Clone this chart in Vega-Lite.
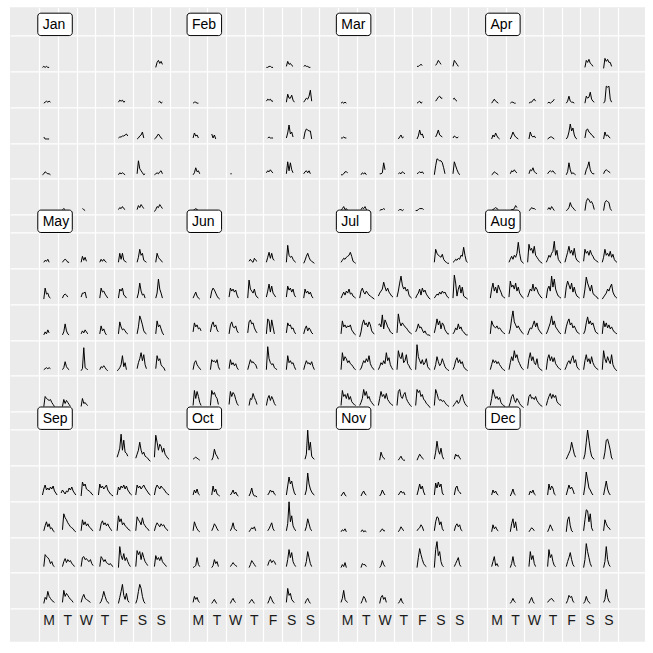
{
"$schema": "https://vega.github.io/schema/vega-lite/v6.json",
"width": 635, "height": 634.4,
"autosize": {"type": "none"},
"padding": {"left": 10, "top": 7.3, "right": 8, "bottom": 11.3},
"background": "white",
"config": {"view": {"fill": "#EBEBEB", "stroke": null}},
"datasets": {
"months": [{"m":1,"label":"Jan"},{"m":2,"label":"Feb"},{"m":3,"label":"Mar"},{"m":4,"label":"Apr"},{"m":5,"label":"May"},{"m":6,"label":"Jun"},{"m":7,"label":"Jul"},{"m":8,"label":"Aug"},{"m":9,"label":"Sep"},{"m":10,"label":"Oct"},{"m":11,"label":"Nov"},{"m":12,"label":"Dec"}],
"days": [
{"m":1,"w":1,"d":1,"s":0,"v":[1,2,1,2,1,1]},
{"m":1,"w":1,"d":7,"s":1,"v":[1,6,8,5,7,4]},
{"m":1,"w":2,"d":1,"s":1,"v":[1,2,3,2,3,2]},
{"m":1,"w":2,"d":5,"s":1,"v":[2,4,3,4,2,3]},
{"m":1,"w":2,"d":7,"s":3,"v":[2,3,1,2]},
{"m":1,"w":3,"d":1,"s":1,"v":[3,1,1,1,1]},
{"m":1,"w":3,"d":5,"s":1,"v":[2,3,3,4,4,5,6,4]},
{"m":1,"w":3,"d":6,"s":1,"v":[1,2,4,5,8,2]},
{"m":1,"w":3,"d":7,"s":0,"v":[1,2,4,6,4,2,1]},
{"m":1,"w":4,"d":1,"s":0,"v":[1,2,4,3,2,2,1]},
{"m":1,"w":4,"d":5,"s":1,"v":[1,3,2,3,2,1]},
{"m":1,"w":4,"d":6,"s":1,"v":[2,15,7,5,3,1,2]},
{"m":1,"w":4,"d":7,"s":0,"v":[1,2,3,2,4,5,2]},
{"m":1,"w":5,"d":2,"s":1,"v":[2,3,2]},
{"m":1,"w":5,"d":3,"s":2,"v":[3,2,1]},
{"m":1,"w":5,"d":5,"s":1,"v":[2,4,3,5,3,2]},
{"m":1,"w":5,"d":6,"s":1,"v":[2,6,4,7,5,3]},
{"m":1,"w":5,"d":7,"s":0,"v":[0,2,5,4,7,5,3]},
{"m":2,"w":1,"d":5,"s":0,"v":[1,1,2,2,1,1]},
{"m":2,"w":1,"d":6,"s":1,"v":[2,7,4,5,3,2]},
{"m":2,"w":1,"d":7,"s":0,"v":[2,3,2,2,1,1]},
{"m":2,"w":2,"d":1,"s":1,"v":[1,2,2,1,1]},
{"m":2,"w":2,"d":5,"s":0,"v":[3,5,4,5,3,3]},
{"m":2,"w":2,"d":6,"s":1,"v":[2,10,6,6,9,4,2]},
{"m":2,"w":2,"d":7,"s":0,"v":[2,4,6,5,8,14,3]},
{"m":2,"w":3,"d":1,"s":1,"v":[2,7,4,5,2]},
{"m":2,"w":3,"d":2,"s":1,"v":[6,2,5,1]},
{"m":2,"w":3,"d":5,"s":1,"v":[2,3,2,2,2]},
{"m":2,"w":3,"d":6,"s":1,"v":[2,7,15,6,8,3]},
{"m":2,"w":3,"d":7,"s":0,"v":[1,8,11,10,9,9,1]},
{"m":2,"w":4,"d":1,"s":1,"v":[1,3,8,4,5,2]},
{"m":2,"w":4,"d":3,"s":1,"v":[2,2]},
{"m":2,"w":4,"d":5,"s":0,"v":[3,5,4,6,4,3]},
{"m":2,"w":4,"d":6,"s":1,"v":[2,14,5,13,6,3]},
{"m":2,"w":4,"d":7,"s":0,"v":[2,4,5,3,5,2]},
{"m":2,"w":5,"d":1,"s":1,"v":[1,2,3,2,1]},
{"m":3,"w":1,"d":5,"s":1,"v":[2,2,3,4,3]},
{"m":3,"w":1,"d":6,"s":1,"v":[3,5,8,6,4]},
{"m":3,"w":1,"d":7,"s":0,"v":[2,8,6,4,2]},
{"m":3,"w":2,"d":1,"s":0,"v":[1,2,1,2,1]},
{"m":3,"w":2,"d":5,"s":1,"v":[1,2,3,1,2]},
{"m":3,"w":2,"d":6,"s":1,"v":[3,5,7,8,6,6]},
{"m":3,"w":2,"d":7,"s":0,"v":[5,6,4,3]},
{"m":3,"w":3,"d":1,"s":0,"v":[2,2,3,2,2]},
{"m":3,"w":3,"d":4,"s":1,"v":[1,3,5,2,3]},
{"m":3,"w":3,"d":5,"s":1,"v":[1,4,10,5,6,2]},
{"m":3,"w":3,"d":6,"s":1,"v":[3,6,10,5,4,3]},
{"m":3,"w":3,"d":7,"s":0,"v":[2,4,3,2,3]},
{"m":3,"w":4,"d":1,"s":0,"v":[1,1,2,4,4,3]},
{"m":3,"w":4,"d":2,"s":1,"v":[1,3,2,3,1]},
{"m":3,"w":4,"d":3,"s":1,"v":[2,2,3,13,6]},
{"m":3,"w":4,"d":4,"s":1,"v":[2,3,2,4,3,2]},
{"m":3,"w":4,"d":5,"s":1,"v":[2,3,4,3,4,2]},
{"m":3,"w":4,"d":6,"s":0,"v":[1,10,17,16,15,15,13,8,2]},
{"m":3,"w":4,"d":7,"s":0,"v":[2,14,10,6,3,1]},
{"m":3,"w":5,"d":1,"s":0,"v":[1,3,5,2,3,1]},
{"m":3,"w":5,"d":2,"s":1,"v":[2,4,3,5,2,1]},
{"m":3,"w":5,"d":3,"s":1,"v":[1,2,2,3,2]},
{"m":3,"w":5,"d":4,"s":1,"v":[1,2,2,1,2]},
{"m":3,"w":5,"d":5,"s":0,"v":[1,1,2,3,3,3,2]},
{"m":4,"w":1,"d":6,"s":1,"v":[1,8,6,9,5,4,2]},
{"m":4,"w":1,"d":7,"s":1,"v":[0,10,7,9,6,6,2]},
{"m":4,"w":2,"d":1,"s":1,"v":[1,3,5,3,2,1]},
{"m":4,"w":2,"d":2,"s":1,"v":[1,2,2,1,1]},
{"m":4,"w":2,"d":3,"s":1,"v":[1,2,2,4,5,3]},
{"m":4,"w":2,"d":4,"s":1,"v":[1,2,1,2,3,5]},
{"m":4,"w":2,"d":5,"s":1,"v":[1,3,8,3,2,2,1]},
{"m":4,"w":2,"d":6,"s":1,"v":[1,8,6,7,12,5,3,2]},
{"m":4,"w":2,"d":7,"s":1,"v":[1,3,18,17,18,5,2]},
{"m":4,"w":3,"d":1,"s":1,"v":[1,5,3,7,4,2,1]},
{"m":4,"w":3,"d":2,"s":1,"v":[1,4,8,5,3,2,1]},
{"m":4,"w":3,"d":3,"s":1,"v":[1,8,4,3,4,2]},
{"m":4,"w":3,"d":4,"s":1,"v":[1,2,3,3,2,1]},
{"m":4,"w":3,"d":5,"s":1,"v":[1,3,8,16,9,12,5,2,1]},
{"m":4,"w":3,"d":6,"s":1,"v":[2,10,11,8,7,5,4,2]},
{"m":4,"w":3,"d":7,"s":1,"v":[1,8,4,5,3,2]},
{"m":4,"w":4,"d":1,"s":1,"v":[1,2,4,3,2,1]},
{"m":4,"w":4,"d":2,"s":1,"v":[2,5,4,6,4,3]},
{"m":4,"w":4,"d":3,"s":1,"v":[2,6,5,8,4,3,2]},
{"m":4,"w":4,"d":4,"s":1,"v":[2,4,5,4,5,3,2]},
{"m":4,"w":4,"d":5,"s":1,"v":[1,4,13,6,2,3,2,1]},
{"m":4,"w":4,"d":6,"s":1,"v":[1,6,9,14,6,3,2,2]},
{"m":4,"w":4,"d":7,"s":1,"v":[2,5,6,5,4,3]},
{"m":4,"w":5,"d":1,"s":1,"v":[1,2,3,4,3,2]},
{"m":4,"w":5,"d":2,"s":1,"v":[1,2,2,3,6,4]},
{"m":4,"w":5,"d":3,"s":1,"v":[1,2,4,3,3,2]},
{"m":4,"w":5,"d":4,"s":1,"v":[2,4,2,5,3,1]},
{"m":4,"w":5,"d":5,"s":1,"v":[1,2,4,9,5,4,2,1]},
{"m":4,"w":5,"d":6,"s":1,"v":[1,10,13,12,9,10,7,2]},
{"m":4,"w":5,"d":7,"s":1,"v":[1,9,11,10,9,3,1]},
{"m":5,"w":1,"d":1,"s":1,"v":[3,5,4,6,3]},
{"m":5,"w":1,"d":2,"s":1,"v":[3,5,6,5,3,3]},
{"m":5,"w":1,"d":3,"s":1,"v":[3,9,5,8,4]},
{"m":5,"w":1,"d":4,"s":1,"v":[3,6,4,6,4,3]},
{"m":5,"w":1,"d":5,"s":1,"v":[3,12,6,12,5,4,3]},
{"m":5,"w":1,"d":6,"s":1,"v":[3,8,16,10,12,5,4,3]},
{"m":5,"w":1,"d":7,"s":1,"v":[3,12,8,6,5,3]},
{"m":5,"w":2,"d":1,"s":1,"v":[2,13,7,8,4,3]},
{"m":5,"w":2,"d":2,"s":1,"v":[3,6,7,6,4]},
{"m":5,"w":2,"d":3,"s":1,"v":[4,8,8,9,3]},
{"m":5,"w":2,"d":4,"s":1,"v":[3,13,9,10,7,5,3]},
{"m":5,"w":2,"d":5,"s":1,"v":[3,12,10,13,6,5,3]},
{"m":5,"w":2,"d":6,"s":1,"v":[3,8,18,10,6,7,3]},
{"m":5,"w":2,"d":7,"s":1,"v":[3,8,22,12,8,3]},
{"m":5,"w":3,"d":1,"s":1,"v":[2,5,3,7,4]},
{"m":5,"w":3,"d":2,"s":1,"v":[2,5,13,6,3,2]},
{"m":5,"w":3,"d":3,"s":1,"v":[3,6,4,7,5,3]},
{"m":5,"w":3,"d":4,"s":1,"v":[3,11,6,8,4,2]},
{"m":5,"w":3,"d":5,"s":1,"v":[3,15,10,7,8,6,4,3]},
{"m":5,"w":3,"d":6,"s":1,"v":[3,10,21,17,12,6,4,3]},
{"m":5,"w":3,"d":7,"s":1,"v":[3,16,10,12,8,4,2]},
{"m":5,"w":4,"d":1,"s":1,"v":[3,4,5,4,5,4]},
{"m":5,"w":4,"d":2,"s":1,"v":[3,5,11,6,4,3]},
{"m":5,"w":4,"d":3,"s":1,"v":[2,4,25,5,4,3]},
{"m":5,"w":4,"d":4,"s":1,"v":[3,6,5,7,5,3,2]},
{"m":5,"w":4,"d":5,"s":0,"v":[2,3,5,8,17,6,10,3]},
{"m":5,"w":4,"d":6,"s":1,"v":[4,10,14,20,12,18,8,4]},
{"m":5,"w":4,"d":7,"s":1,"v":[4,17,12,14,8,6,5,2]},
{"m":5,"w":5,"d":1,"s":1,"v":[2,12,10,9,8,9,6,4,2]},
{"m":5,"w":5,"d":2,"s":1,"v":[2,9,5,8,6,4,2]},
{"m":5,"w":5,"d":3,"s":1,"v":[2,10,5,6,4,3]},
{"m":6,"w":1,"d":4,"s":1,"v":[4,6,4,3,7,5,4]},
{"m":6,"w":1,"d":5,"s":0,"v":[3,8,13,7,12,6,5]},
{"m":6,"w":1,"d":6,"s":1,"v":[3,20,10,8,9,6,4,3]},
{"m":6,"w":1,"d":7,"s":0,"v":[2,5,9,12,8,5,4,3,2]},
{"m":6,"w":2,"d":1,"s":1,"v":[3,6,9,5,3,2]},
{"m":6,"w":2,"d":2,"s":0,"v":[3,10,13,11,8,5,3,2]},
{"m":6,"w":2,"d":3,"s":0,"v":[4,13,10,12,9,11,6,3]},
{"m":6,"w":2,"d":4,"s":0,"v":[3,21,12,10,8,12,6,4,3]},
{"m":6,"w":2,"d":5,"s":0,"v":[4,10,17,9,15,8,6,4]},
{"m":6,"w":2,"d":6,"s":1,"v":[4,15,11,13,9,12,6,4]},
{"m":6,"w":2,"d":7,"s":0,"v":[3,12,8,10,7,9,5,3]},
{"m":6,"w":3,"d":1,"s":1,"v":[5,14,10,12,8,9,6]},
{"m":6,"w":3,"d":2,"s":0,"v":[5,12,15,10,12,7,5]},
{"m":6,"w":3,"d":3,"s":0,"v":[3,12,15,10,9,11,6,4]},
{"m":6,"w":3,"d":4,"s":0,"v":[4,15,17,13,14,9,6,4]},
{"m":6,"w":3,"d":5,"s":0,"v":[3,18,16,5,17,10,3]},
{"m":6,"w":3,"d":6,"s":1,"v":[4,14,11,12,8,9,5,3]},
{"m":6,"w":3,"d":7,"s":0,"v":[3,8,11,6,9,7,4,3]},
{"m":6,"w":4,"d":1,"s":1,"v":[3,10,12,8,6,4,3]},
{"m":6,"w":4,"d":2,"s":0,"v":[3,13,11,12,10,13,6,3]},
{"m":6,"w":4,"d":3,"s":0,"v":[4,13,8,10,7,9,5,3]},
{"m":6,"w":4,"d":4,"s":0,"v":[3,8,13,10,11,9,8,4]},
{"m":6,"w":4,"d":5,"s":0,"v":[3,26,14,10,8,9,5,4,3]},
{"m":6,"w":4,"d":6,"s":1,"v":[3,17,10,12,9,10,6,3]},
{"m":6,"w":4,"d":7,"s":0,"v":[3,8,12,9,10,8,11,6,3]},
{"m":6,"w":5,"d":1,"s":1,"v":[3,18,10,17,12,6,3]},
{"m":6,"w":5,"d":2,"s":0,"v":[3,18,14,16,12,10,4]},
{"m":6,"w":5,"d":3,"s":0,"v":[4,17,12,16,14,9,5,3]},
{"m":6,"w":5,"d":4,"s":1,"v":[3,10,9,15,11,8,4]},
{"m":6,"w":5,"d":5,"s":0,"v":[3,10,13,8,12,9,5,3]},
{"m":7,"w":1,"d":1,"s":0,"v":[3,5,7,6,8,9,10,13,9,4,3,2]},
{"m":7,"w":1,"d":6,"s":0,"v":[3,16,12,10,9,8,11,6,4,3,2,2]},
{"m":7,"w":1,"d":7,"s":0,"v":[3,4,6,5,7,6,10,9,18,10,4,3]},
{"m":7,"w":2,"d":1,"s":0,"v":[3,6,9,6,10,8,12,7,8,5,4,3]},
{"m":7,"w":2,"d":2,"s":0,"v":[3,10,13,9,7,10,8,6,5,4,3,2]},
{"m":7,"w":2,"d":3,"s":0,"v":[5,8,10,12,19,14,10,13,9,7,5,4]},
{"m":7,"w":2,"d":4,"s":0,"v":[4,10,18,25,16,12,14,10,12,6,4,3]},
{"m":7,"w":2,"d":5,"s":0,"v":[3,6,8,12,6,13,9,11,7,5,3,2]},
{"m":7,"w":2,"d":6,"s":0,"v":[3,5,7,6,9,7,10,8,9,6,4,3]},
{"m":7,"w":2,"d":7,"s":0,"v":[3,26,18,5,12,16,8,14,5,4,3,2]},
{"m":7,"w":3,"d":1,"s":0,"v":[3,16,10,12,9,11,10,12,7,5,3,2]},
{"m":7,"w":3,"d":2,"s":0,"v":[0,5,13,17,12,14,10,15,12,6,4,3]},
{"m":7,"w":3,"d":3,"s":0,"v":[12,13,10,22,8,17,14,10,8,5,4,3]},
{"m":7,"w":3,"d":4,"s":0,"v":[4,23,15,11,14,12,10,9,7,5,4,3]},
{"m":7,"w":3,"d":5,"s":0,"v":[5,8,13,9,10,7,4,6,3,2,2,1]},
{"m":7,"w":3,"d":6,"s":0,"v":[4,10,18,12,16,8,14,12,7,5,3,3]},
{"m":7,"w":3,"d":7,"s":0,"v":[3,5,9,7,13,8,10,6,5,3,2,2]},
{"m":7,"w":4,"d":1,"s":0,"v":[3,20,12,16,14,10,12,9,8,6,4,3]},
{"m":7,"w":4,"d":2,"s":0,"v":[3,4,8,12,10,14,11,17,9,6,4,3]},
{"m":7,"w":4,"d":3,"s":0,"v":[3,6,10,8,12,9,20,12,15,8,5,3]},
{"m":7,"w":4,"d":4,"s":0,"v":[3,22,16,14,20,10,12,18,9,7,4,3]},
{"m":7,"w":4,"d":5,"s":0,"v":[3,28,16,12,9,13,8,10,14,6,4,3]},
{"m":7,"w":4,"d":6,"s":0,"v":[3,8,16,11,7,9,14,10,6,4,3,2]},
{"m":7,"w":4,"d":7,"s":0,"v":[3,6,12,15,10,13,9,11,6,4,3,2]},
{"m":7,"w":5,"d":1,"s":0,"v":[3,18,12,14,10,15,9,12,7,5,4,3]},
{"m":7,"w":5,"d":2,"s":0,"v":[3,6,10,19,13,17,10,12,8,6,4,3]},
{"m":7,"w":5,"d":3,"s":0,"v":[3,10,17,12,14,10,15,9,7,5,4,3]},
{"m":7,"w":5,"d":4,"s":0,"v":[3,17,19,12,10,14,16,10,7,5,3,2]},
{"m":7,"w":5,"d":5,"s":0,"v":[3,19,16,18,12,14,9,8,5,4,2,1]},
{"m":7,"w":5,"d":6,"s":0,"v":[3,19,15,10,8,9,7,8,6,4,3,2]},
{"m":7,"w":5,"d":7,"s":0,"v":[2,4,6,8,5,7,12,14,8,5,3,2]},
{"m":8,"w":1,"d":2,"s":0,"v":[3,6,9,6,10,8,12,23,12,5,3,2]},
{"m":8,"w":1,"d":3,"s":0,"v":[3,21,15,17,12,19,10,8,6,4,3,2]},
{"m":8,"w":1,"d":4,"s":0,"v":[3,6,10,8,12,14,24,10,15,6,4,2]},
{"m":8,"w":1,"d":5,"s":0,"v":[3,8,13,19,12,15,10,17,8,5,4,3]},
{"m":8,"w":1,"d":6,"s":0,"v":[4,16,12,14,10,15,11,9,6,5,4,3]},
{"m":8,"w":1,"d":7,"s":0,"v":[3,8,16,10,12,9,14,8,11,6,4,3]},
{"m":8,"w":2,"d":1,"s":0,"v":[3,12,18,10,14,8,16,12,9,5,4,3]},
{"m":8,"w":2,"d":2,"s":0,"v":[4,20,14,16,12,18,10,14,8,6,4,3]},
{"m":8,"w":2,"d":3,"s":0,"v":[4,8,12,10,17,10,14,12,8,6,4,3]},
{"m":8,"w":2,"d":4,"s":0,"v":[3,12,15,10,25,14,22,12,8,5,4,3]},
{"m":8,"w":2,"d":5,"s":0,"v":[3,14,20,16,12,18,9,14,8,5,4,3]},
{"m":8,"w":2,"d":6,"s":0,"v":[3,12,24,18,14,10,16,8,6,5,4,2]},
{"m":8,"w":2,"d":7,"s":0,"v":[2,4,6,8,12,10,14,17,9,6,4,3]},
{"m":8,"w":3,"d":1,"s":0,"v":[3,16,12,10,9,11,8,9,7,5,4,3]},
{"m":8,"w":3,"d":2,"s":0,"v":[3,8,18,26,15,12,9,11,8,6,4,3]},
{"m":8,"w":3,"d":3,"s":0,"v":[2,6,9,8,12,16,10,14,8,6,4,3]},
{"m":8,"w":3,"d":4,"s":0,"v":[3,6,10,14,21,12,16,10,8,6,4,3]},
{"m":8,"w":3,"d":5,"s":0,"v":[3,10,15,18,12,14,9,11,8,5,4,3]},
{"m":8,"w":3,"d":6,"s":0,"v":[3,6,14,20,13,16,12,14,9,5,4,3]},
{"m":8,"w":3,"d":7,"s":0,"v":[3,16,10,14,9,12,8,10,7,5,4,3]},
{"m":8,"w":4,"d":1,"s":0,"v":[3,8,13,10,12,9,11,8,6,4,3,2]},
{"m":8,"w":4,"d":2,"s":0,"v":[3,10,16,12,22,15,18,12,9,6,4,3]},
{"m":8,"w":4,"d":3,"s":0,"v":[4,14,20,12,16,10,8,14,6,4,3,2]},
{"m":8,"w":4,"d":4,"s":0,"v":[3,14,18,12,16,11,15,9,7,5,4,3]},
{"m":8,"w":4,"d":5,"s":0,"v":[3,6,10,12,9,14,17,10,13,6,4,3]},
{"m":8,"w":4,"d":6,"s":0,"v":[3,12,18,11,14,9,16,10,7,5,4,3]},
{"m":8,"w":4,"d":7,"s":0,"v":[3,22,14,10,16,12,9,18,8,5,3,2]},
{"m":8,"w":5,"d":1,"s":0,"v":[3,10,19,14,10,12,9,11,6,4,3,2]},
{"m":8,"w":5,"d":2,"s":0,"v":[2,6,12,14,9,6,10,8,5,3,2,1]},
{"m":8,"w":5,"d":3,"s":0,"v":[3,12,14,10,11,9,12,8,6,4,3,2]},
{"m":8,"w":5,"d":4,"s":0,"v":[3,8,12,15,10,14,11,13,7,5,4,3]},
{"m":9,"w":1,"d":5,"s":0,"v":[5,9,14,28,12,22,10,9,6]},
{"m":9,"w":1,"d":6,"s":0,"v":[4,8,12,20,12,8,10,6,5,4,2,1]},
{"m":9,"w":1,"d":7,"s":0,"v":[5,27,20,12,18,16,10,14,8,6,4,3]},
{"m":9,"w":2,"d":1,"s":0,"v":[3,9,13,8,10,8,11,9,12,7,5,3]},
{"m":9,"w":2,"d":2,"s":0,"v":[5,8,6,4,7,6,10,8,11,7,5,3]},
{"m":9,"w":2,"d":3,"s":1,"v":[2,16,12,14,9,8,7,6,4,3]},
{"m":9,"w":2,"d":4,"s":0,"v":[3,14,10,12,9,11,13,8,6,4,3,2]},
{"m":9,"w":2,"d":5,"s":0,"v":[3,11,8,12,10,13,9,12,8,6,4,3]},
{"m":9,"w":2,"d":6,"s":0,"v":[3,13,10,12,9,11,13,10,8,6,4,3]},
{"m":9,"w":2,"d":7,"s":0,"v":[3,10,13,11,9,12,10,9,7,5,4,3]},
{"m":9,"w":3,"d":1,"s":1,"v":[3,8,12,7,10,5,6,3,2]},
{"m":9,"w":3,"d":2,"s":1,"v":[4,20,16,14,11,9,7,6,5,3,2]},
{"m":9,"w":3,"d":3,"s":1,"v":[3,14,9,12,8,10,7,6,4,3]},
{"m":9,"w":3,"d":4,"s":1,"v":[3,10,13,9,11,8,10,7,5,3]},
{"m":9,"w":3,"d":5,"s":0,"v":[3,18,12,15,9,11,8,7,5,4,3]},
{"m":9,"w":3,"d":6,"s":0,"v":[3,17,14,12,9,16,10,8,6,5,3]},
{"m":9,"w":3,"d":7,"s":0,"v":[3,8,11,9,7,10,8,9,6,5,3]},
{"m":9,"w":4,"d":1,"s":1,"v":[3,15,13,12,10,6,8,4,3]},
{"m":9,"w":4,"d":2,"s":1,"v":[3,8,11,7,10,8,9,6,5,3]},
{"m":9,"w":4,"d":3,"s":1,"v":[3,12,13,10,11,9,8,10,6,4]},
{"m":9,"w":4,"d":4,"s":1,"v":[3,13,11,8,10,7,6,5,6,4,3]},
{"m":9,"w":4,"d":5,"s":1,"v":[2,23,14,10,16,9,12,8,5,3]},
{"m":9,"w":4,"d":6,"s":0,"v":[3,19,15,18,10,17,12,8,6,4]},
{"m":9,"w":4,"d":7,"s":0,"v":[3,14,10,12,9,13,8,6,5,3]},
{"m":9,"w":5,"d":1,"s":1,"v":[2,8,6,14,9,7,5,4,3]},
{"m":9,"w":5,"d":2,"s":1,"v":[3,15,9,12,10,8,6,5,3]},
{"m":9,"w":5,"d":3,"s":1,"v":[3,8,11,7,6,5,4,3]},
{"m":9,"w":5,"d":4,"s":1,"v":[2,4,8,14,9,5,3,2]},
{"m":9,"w":5,"d":5,"s":1,"v":[2,8,14,21,10,6,12,5,3]},
{"m":9,"w":5,"d":6,"s":0,"v":[2,6,14,21,17,9,4,2]},
{"m":10,"w":1,"d":1,"s":1,"v":[3,4,5,4,3,2]},
{"m":10,"w":1,"d":2,"s":1,"v":[2,5,13,8,6,3]},
{"m":10,"w":1,"d":7,"s":1,"v":[3,8,32,12,20,6,4,3]},
{"m":10,"w":2,"d":1,"s":1,"v":[3,8,5,9,4,3]},
{"m":10,"w":2,"d":2,"s":1,"v":[3,12,6,9,4,3,2]},
{"m":10,"w":2,"d":3,"s":1,"v":[3,5,8,4,6,3,2]},
{"m":10,"w":2,"d":4,"s":1,"v":[2,5,10,4,2,2,1]},
{"m":10,"w":2,"d":5,"s":1,"v":[3,5,8,6,7,4,3]},
{"m":10,"w":2,"d":6,"s":1,"v":[3,12,21,14,17,10,5,3]},
{"m":10,"w":2,"d":7,"s":1,"v":[3,8,25,14,9,6,4,3]},
{"m":10,"w":3,"d":1,"s":1,"v":[3,12,8,5,3,2]},
{"m":10,"w":3,"d":2,"s":1,"v":[3,6,10,8,5,3]},
{"m":10,"w":3,"d":3,"s":1,"v":[3,6,11,5,4,3]},
{"m":10,"w":3,"d":4,"s":1,"v":[2,4,6,5,7,3]},
{"m":10,"w":3,"d":5,"s":1,"v":[3,5,8,11,5,3]},
{"m":10,"w":3,"d":6,"s":1,"v":[3,10,32,12,18,8,5,3]},
{"m":10,"w":3,"d":7,"s":1,"v":[3,7,15,10,5,3]},
{"m":10,"w":4,"d":1,"s":1,"v":[2,3,4,12,5,3]},
{"m":10,"w":4,"d":2,"s":1,"v":[2,4,10,6,8,3]},
{"m":10,"w":4,"d":3,"s":1,"v":[3,5,7,5,4,3]},
{"m":10,"w":4,"d":4,"s":1,"v":[2,5,9,7,5,3]},
{"m":10,"w":4,"d":5,"s":1,"v":[4,8,10,7,9,8,5]},
{"m":10,"w":4,"d":6,"s":1,"v":[3,10,20,12,17,8,5,3]},
{"m":10,"w":4,"d":7,"s":1,"v":[3,8,18,12,6,3]},
{"m":10,"w":5,"d":1,"s":1,"v":[3,9,6,8,4,3]},
{"m":10,"w":5,"d":2,"s":1,"v":[2,4,6,3,2]},
{"m":10,"w":5,"d":3,"s":1,"v":[2,5,7,4,3]},
{"m":10,"w":5,"d":4,"s":1,"v":[2,4,6,4,2]},
{"m":10,"w":5,"d":5,"s":1,"v":[2,5,9,6,3,2]},
{"m":10,"w":5,"d":6,"s":1,"v":[3,17,10,12,6,4,3]},
{"m":10,"w":5,"d":7,"s":1,"v":[2,5,7,4,2]},
{"m":11,"w":1,"d":3,"s":1,"v":[2,10,6,4,3]},
{"m":11,"w":1,"d":4,"s":1,"v":[2,4,6,3,2,2]},
{"m":11,"w":1,"d":5,"s":1,"v":[2,5,8,6,4,3]},
{"m":11,"w":1,"d":6,"s":0,"v":[3,10,21,12,8,14,6,3]},
{"m":11,"w":1,"d":7,"s":1,"v":[3,8,6,7,4,3]},
{"m":11,"w":2,"d":1,"s":0,"v":[2,4,6,3,2]},
{"m":11,"w":2,"d":2,"s":1,"v":[2,5,7,4,3]},
{"m":11,"w":2,"d":3,"s":1,"v":[2,4,8,5,3]},
{"m":11,"w":2,"d":4,"s":1,"v":[3,5,7,5,6,3]},
{"m":11,"w":2,"d":5,"s":1,"v":[3,8,14,9,12,6,3]},
{"m":11,"w":2,"d":6,"s":0,"v":[3,15,10,16,11,14,5,3]},
{"m":11,"w":2,"d":7,"s":1,"v":[3,10,12,7,6,4]},
{"m":11,"w":3,"d":1,"s":0,"v":[2,4,3,5,2]},
{"m":11,"w":3,"d":2,"s":1,"v":[2,4,2,3,2]},
{"m":11,"w":3,"d":3,"s":1,"v":[2,3,5,3,3]},
{"m":11,"w":3,"d":4,"s":1,"v":[2,4,7,5,3]},
{"m":11,"w":3,"d":5,"s":1,"v":[3,5,6,9,7,3]},
{"m":11,"w":3,"d":6,"s":0,"v":[3,12,17,16,9,12,5,3]},
{"m":11,"w":3,"d":7,"s":1,"v":[3,8,10,7,9,4,3]},
{"m":11,"w":4,"d":1,"s":0,"v":[2,5,3,7,2]},
{"m":11,"w":4,"d":2,"s":1,"v":[2,6,5,5,3]},
{"m":11,"w":4,"d":3,"s":1,"v":[2,4,9,5,3]},
{"m":11,"w":4,"d":5,"s":1,"v":[2,12,21,15,10,6,4,3]},
{"m":11,"w":4,"d":6,"s":0,"v":[2,20,28,14,18,8,4,3]},
{"m":11,"w":4,"d":7,"s":1,"v":[3,6,9,12,5,3]},
{"m":11,"w":5,"d":1,"s":0,"v":[3,7,15,6,4,3]},
{"m":11,"w":5,"d":2,"s":1,"v":[2,5,9,7,3]},
{"m":11,"w":5,"d":3,"s":1,"v":[2,8,10,6,8,3]},
{"m":11,"w":5,"d":4,"s":1,"v":[2,4,7,3,2]},
{"m":12,"w":1,"d":5,"s":1,"v":[3,6,9,12,20,14,8,5]},
{"m":12,"w":1,"d":6,"s":0,"v":[3,8,20,32,22,12,6,4,3]},
{"m":12,"w":1,"d":7,"s":1,"v":[3,10,22,23,18,12,4,3]},
{"m":12,"w":2,"d":1,"s":1,"v":[3,8,5,7,4,3]},
{"m":12,"w":2,"d":2,"s":1,"v":[2,5,9,4,3]},
{"m":12,"w":2,"d":3,"s":1,"v":[3,7,5,8,4,3]},
{"m":12,"w":2,"d":4,"s":1,"v":[3,14,8,12,10,4,3]},
{"m":12,"w":2,"d":5,"s":1,"v":[3,8,13,9,11,8,4]},
{"m":12,"w":2,"d":6,"s":0,"v":[3,12,26,18,10,8,5,3]},
{"m":12,"w":2,"d":7,"s":1,"v":[3,10,17,9,5,3]},
{"m":12,"w":3,"d":1,"s":1,"v":[2,9,5,7,4,3]},
{"m":12,"w":3,"d":2,"s":1,"v":[2,10,15,6,12,3]},
{"m":12,"w":3,"d":3,"s":1,"v":[2,4,6,5,3]},
{"m":12,"w":3,"d":4,"s":1,"v":[2,5,9,6,3]},
{"m":12,"w":3,"d":5,"s":1,"v":[2,14,17,8,3,2]},
{"m":12,"w":3,"d":6,"s":0,"v":[3,14,24,23,12,20,6,3]},
{"m":12,"w":3,"d":7,"s":1,"v":[3,14,10,7,6,4]},
{"m":12,"w":4,"d":1,"s":1,"v":[3,8,13,4,6,3]},
{"m":12,"w":4,"d":2,"s":1,"v":[2,6,13,5,3]},
{"m":12,"w":4,"d":3,"s":1,"v":[3,18,10,14,6,3]},
{"m":12,"w":4,"d":4,"s":1,"v":[3,20,12,15,8,4,3]},
{"m":12,"w":4,"d":5,"s":1,"v":[3,8,12,17,10,5,3]},
{"m":12,"w":4,"d":6,"s":0,"v":[2,10,26,18,12,6,3]},
{"m":12,"w":4,"d":7,"s":1,"v":[2,8,23,10,5,3]},
{"m":12,"w":5,"d":2,"s":1,"v":[2,4,7,4,3]},
{"m":12,"w":5,"d":3,"s":1,"v":[2,5,8,4,2]},
{"m":12,"w":5,"d":4,"s":1,"v":[3,5,6,7,5,4]},
{"m":12,"w":5,"d":5,"s":1,"v":[2,5,10,8,9,4,3]},
{"m":12,"w":5,"d":6,"s":0,"v":[2,4,9,5,3,2]},
{"m":12,"w":5,"d":7,"s":1,"v":[3,6,16,8,4,3]}
]},
"encoding": {
  "x": {"field": "xp", "type": "quantitative",
    "scale": {"domain": [-1.57, 32.46], "nice": false, "zero": false},
    "axis": {"title": null, "orient": "bottom",
      "values": [0,0.5,1,1.5,2,2.5,3,3.5,4,4.5,5,5.5,6,6.5,7,8,8.5,9,9.5,10,10.5,11,11.5,12,12.5,13,13.5,14,14.5,15,16,16.5,17,17.5,18,18.5,19,19.5,20,20.5,21,21.5,22,22.5,23,24,24.5,25,25.5,26,26.5,27,27.5,28,28.5,29,29.5,30,30.5,31],
      "grid": true, "gridColor": "white", "gridWidth": 1.2,
      "gridOpacity": {"condition": {"test": "datum.value % 1 === 0", "value": 1}, "value": 0},
      "ticks": false, "domain": false,
      "labelExpr": "datum.value % 1 === 0 ? '' : substring('MTWTFSS', floor(datum.value) % 8, floor(datum.value) % 8 + 1)",
      "labelPadding": -21, "labelBaseline": "middle", "labelFontSize": 14, "labelFont": "Liberation Sans",
      "labelColor": "#1a1a1a", "labelOverlap": false, "labelBound": false, "labelFlush": false}},
  "y": {"field": "yp", "type": "quantitative",
    "scale": {"domain": [-0.93, 16.79], "nice": false, "zero": false},
    "axis": {"title": null, "values": [0,1,2,3,4,5,5.5,6.5,7.5,8.5,9.5,10.5,11,12,13,14,15,16],
      "grid": true, "gridColor": "white", "gridWidth": 1.2, "ticks": false, "domain": false, "labels": false}}
},
"layer": [
  {"data": {"name": "days"},
   "transform": [
     {"flatten": ["v"]},
     {"window": [{"op": "row_number", "as": "i"}], "groupby": ["m", "w", "d"]},
     {"calculate": "((datum.m-1)%4)*8 + datum.d - 1 + 0.17 + (datum.s + datum.i - 1)*0.0714", "as": "xp"},
     {"calculate": "16 - floor((datum.m-1)/4)*5.5 - datum.w + (3 + datum.v)/35.8", "as": "yp"}
   ],
   "mark": {"type": "line", "stroke": "black", "strokeWidth": 1},
   "encoding": {
     "detail": [{"field": "m", "type": "nominal"}, {"field": "w", "type": "nominal"}, {"field": "d", "type": "nominal"}],
     "order": {"field": "i", "type": "quantitative"}}},
  {"data": {"name": "months"},
   "transform": [
     {"calculate": "((datum.m-1)%4)*8", "as": "xp"},
     {"calculate": "16 - floor((datum.m-1)/4)*5.5", "as": "yp"}
   ],
   "mark": {"type": "rect", "fill": "white", "stroke": "black", "strokeWidth": 1, "cornerRadius": 3, "xOffset": -1.5, "x2Offset": 33, "y2Offset": -22.4},
   "encoding": {"x2": {"field": "xp"}, "y2": {"field": "yp"}}},
  {"data": {"name": "months"},
   "transform": [
     {"calculate": "((datum.m-1)%4)*8", "as": "xp"},
     {"calculate": "16 - floor((datum.m-1)/4)*5.5", "as": "yp"}
   ],
   "mark": {"type": "text", "align": "left", "baseline": "middle", "dx": 3.4, "dy": -10.8, "fontSize": 14, "font": "Liberation Sans", "color": "black"},
   "encoding": {"text": {"field": "label"}}}
]
}
